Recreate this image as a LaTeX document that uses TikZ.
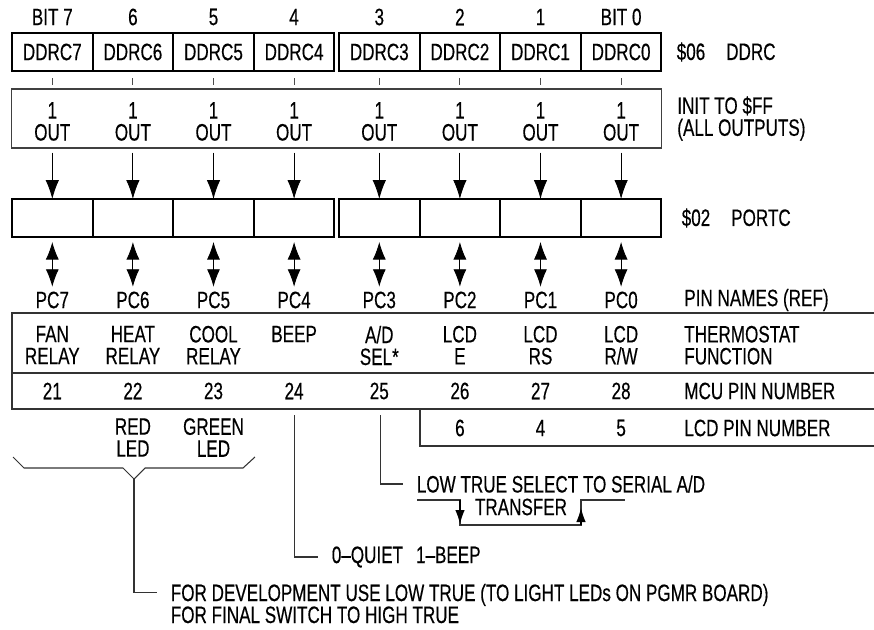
\documentclass[tikz,border=0pt]{standalone}
\usepackage{fontspec}
\setmainfont{Liberation Sans}[FakeStretch=0.72,FakeBold=0.35]
\usetikzlibrary{arrows.meta,positioning,calc}
\tikzset{
  regcell/.style={
    draw,
    line width=1.1pt,
    minimum width=16.12mm,
    minimum height=7.6mm,
    inner sep=0pt,
    outer sep=0pt
  },
  initframe/.style={
    draw=black!75,
    line width=0.6pt,
    minimum width=129.9mm,
    minimum height=11.8mm,
    inner sep=0pt
  },
  colnote/.style={align=center,inner sep=0pt},
  sidenote/.style={align=left,anchor=west,inner sep=0pt},
  note/.style={align=left,inner xsep=2.7mm,inner ysep=0pt},
  tabline/.style={draw=black!80,line width=0.7pt},
  callout/.style={draw=black!80,line width=0.6pt},
  tick/.style={draw=black!70,line width=0.6pt},
  dirarrow/.style={-{Latex[length=3.8mm,width=2.7mm]},line width=0.5pt},
  pinarrow/.style={{Latex[length=3.5mm,width=2.6mm]}-{Latex[length=3.5mm,width=2.6mm]},line width=0.5pt},
  edgearrow/.style={-{Latex[length=2.8mm,width=1.9mm]},line width=0.6pt}
}

\begin{document}
\begin{tikzpicture}[x=0.2mm,y=-0.2mm,font=\fontsize{13.5}{12.5}\selectfont]
  \useasboundingbox (0,0) rectangle (874,630);

  % DDRC and PORTC registers, one cell per bit
  \foreach \b/\x in {7/52.3,6/132.9,5/213.5,4/294.1,3/379.3,2/459.9,1/540.5,0/621.1} {
    \node[regcell] (d\b) at (\x,52) {DDRC\b};
    \node[regcell] (p\b) at (\x,218) {};
    \draw[tick] (\x,78) -- (\x,85);
    \node[colnote] (o\b) at (\x,121.5) {1\\OUT};
    \node[colnote] (pc\b) at (\x,300) {PC\b};
  }
  \node (b7) at (52.3,17) {BIT 7};
  \node (b6) at (132.9,17) {6};
  \node (b5) at (213.5,17) {5};
  \node (b4) at (294.1,17) {4};
  \node (b3) at (379.3,17) {3};
  \node (b2) at (459.9,17) {2};
  \node (b1) at (540.5,17) {1};
  \node (b0) at (621.1,17) {BIT 0};

  \node[initframe] (initb) at (336.7,118.5) {};

  \node[sidenote,right=3mm of d0] (ddrcname) {\$06\hspace{4.2mm}DDRC};
  \node[sidenote,right=3mm of initb] (initname) {INIT TO \$FF\\(ALL OUTPUTS)};
  \node[sidenote,right=4mm of p0] (portcname) {\$02\hspace{4.2mm}PORTC};

  \foreach \b in {7,...,0} {
    \draw[dirarrow,shorten <=0.8mm] (initb.south -| p\b.north) -- (p\b.north);
    \draw[pinarrow,shorten <=1mm,shorten >=0.9mm] (p\b.south) -- (pc\b.north);
  }

  % pin table
  \draw[tabline] (874,313) -- (12,313) -- (12,409) -- (874,409);
  \draw[tabline] (12,373) -- (874,373);
  \draw[tabline] (874,446) -- (420,446) -- (420,409);

  \foreach \b/\x/\t/\m in {7/52.3/{FAN\\RELAY}/21,6/132.9/{HEAT\\RELAY}/22,
      5/213.5/{COOL\\RELAY}/23,4/294.1/{BEEP}/24,3/379.3/{A/D\\SEL*}/25,
      2/459.9/{LCD\\E}/26,1/540.5/{LCD\\RS}/27,0/621.1/{LCD\\R/W}/28} {
    \node[colnote,anchor=north] (f\b) at (\x,325.5) {\t};
    \node (m\b) at (\x,391) {\m};
  }
  \node (l2) at (459.9,428) {6};
  \node (l1) at (540.5,428) {4};
  \node (l0) at (621.1,428) {5};

  \node[sidenote] (pinname) at (684,300) {PIN NAMES (REF)};
  \node[sidenote,anchor=north west] (funcname) at (684,325.5) {THERMOSTAT\\FUNCTION};
  \node[sidenote] (mcuname) at (684,391) {MCU PIN NUMBER};
  \node[sidenote] (lcdname) at (684,428) {LCD PIN NUMBER};

  \node[colnote] (redled) at (132.9,437.5) {RED\\LED};
  \node[colnote] (greenled) at (213.5,437.5) {GREEN\\LED};

  % notes below the table
  \draw[callout] (13,457) -- (24,468) -- (123,468) -- (134,479) -- (145,468) -- (243,468) -- (255,457);
  \coordinate (bt) at (134,479);
  \coordinate (beeptop) at (294.1,415);
  \coordinate (adtop) at (380.5,415);

  \node[note,anchor=west] (adnote) at (403,484) {LOW TRUE SELECT TO SERIAL A/D};
  \node (xfer) at (521,507) {TRANSFER};
  \node[note,anchor=west] (beepnote) at (318,557) {0–QUIET\hspace{2.6mm}1–BEEP};
  \node[note,anchor=north west] (devnote) at (157,583.5) {FOR DEVELOPMENT USE LOW TRUE (TO LIGHT LEDs ON PGMR BOARD)\\FOR FINAL SWITCH TO HIGH TRUE};

  \draw[callout] (adtop) |- (adnote.west);
  \draw[callout] (beeptop) |- (beepnote.west);
  \draw[callout] (bt) |- ($(devnote.north west)+(0,9)$);

  % select pulse
  \draw[callout] (417,500) -- (460,500) -- (460,525) -- (581,525) -- (581,500) -- (625,500);
  \draw[edgearrow] (460,500) -- (460,524);
  \draw[edgearrow] (581,525) -- (581,508);
\end{tikzpicture}
\end{document}
